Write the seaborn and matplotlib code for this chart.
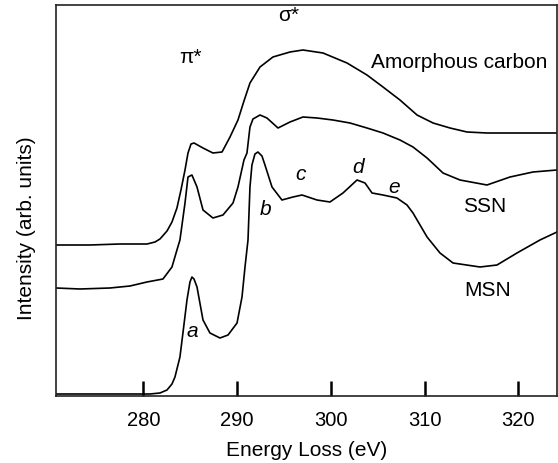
import matplotlib
matplotlib.use("Agg")
import matplotlib.pyplot as plt
import seaborn as sns
import pandas as pd

# energy loss (eV) and intensity (arb. units)
amorphous_e = [270.7, 274.3, 277.5, 280.4, 281.25, 281.78, 282.53, 283.06, 283.59, 284.02,
               284.45, 284.77, 285.09, 285.41, 286.37, 287.43, 288.40, 289.25, 290.10, 290.74,
               291.38, 292.45, 293.83, 295.65, 297.03, 299.17, 301.73, 303.86, 305.57, 307.38,
               309.20, 310.91, 312.72, 314.53, 316.66, 319.86, 324.13]
amorphous_i = [1.51, 1.51, 1.52, 1.52, 1.54, 1.57, 1.65, 1.74, 1.88, 2.06,
               2.26, 2.43, 2.52, 2.53, 2.48, 2.43, 2.44, 2.59, 2.76, 2.95,
               3.13, 3.29, 3.39, 3.44, 3.46, 3.43, 3.33, 3.21, 3.09, 2.96,
               2.81, 2.73, 2.68, 2.64, 2.63, 2.63, 2.63]

ssn_e = [270.7, 273.25, 276.45, 278.58, 280.39, 282.10, 283.06, 283.59, 283.91, 284.45,
         284.77, 285.19, 285.73, 286.37, 287.43, 288.50, 289.57, 290.10, 290.74, 291.06,
         291.38, 291.70, 292.45, 293.19, 294.37, 295.65, 297.03, 298.53, 300.23, 302.05,
         303.86, 305.57, 307.38, 308.77, 310.27, 311.97, 313.78, 316.66, 319.12, 321.57,
         324.13]
ssn_i = [1.08, 1.07, 1.08, 1.10, 1.14, 1.17, 1.29, 1.46, 1.56, 1.93,
         2.19, 2.21, 2.09, 1.86, 1.78, 1.81, 1.93, 2.09, 2.36, 2.43,
         2.69, 2.77, 2.81, 2.78, 2.68, 2.74, 2.79, 2.78, 2.76, 2.73,
         2.68, 2.63, 2.56, 2.49, 2.38, 2.23, 2.16, 2.11, 2.19, 2.24,
         2.26]

msn_e = [270.7, 275.38, 280.71, 281.78, 282.53, 283.06, 283.38, 283.91, 284.23, 284.66,
         284.98, 285.19, 285.41, 285.73, 286.37, 287.11, 288.18, 289.04, 290.00, 290.53,
         290.85, 291.17, 291.38, 291.59, 291.91, 292.23, 292.66, 292.98, 293.73, 294.79,
         295.97, 296.93, 298.53, 299.91, 301.30, 302.80, 303.65, 304.40, 305.57, 307.06,
         308.13, 308.77, 310.27, 311.65, 313.04, 315.92, 317.73, 319.86, 322.31, 324.13]
msn_i = [0.02, 0.02, 0.02, 0.03, 0.06, 0.12, 0.19, 0.39, 0.63, 0.96,
         1.14, 1.19, 1.17, 1.09, 0.76, 0.63, 0.58, 0.61, 0.73, 0.99,
         1.29, 1.56, 2.09, 2.31, 2.42, 2.44, 2.40, 2.31, 2.09, 1.96,
         1.99, 2.01, 1.96, 1.94, 2.03, 2.16, 2.13, 2.03, 2.01, 1.98,
         1.91, 1.83, 1.59, 1.43, 1.33, 1.29, 1.31, 1.43, 1.56, 1.64]

x_ticks = [280, 290, 300, 310, 320]

sns.set_style("white")
plt.rcParams['font.family'] = ['Liberation Sans', 'DejaVu Sans']
plt.rcParams['text.color'] = 'black'
plt.rcParams['axes.labelcolor'] = 'black'
plt.rcParams['xtick.color'] = 'black'

fig = plt.figure(figsize=(5.58, 4.63), dpi=100)
ax = fig.add_axes([56 / 558, 67 / 463, 501 / 558, 391 / 463])

for e, i in [(amorphous_e, amorphous_i), (ssn_e, ssn_i), (msn_e, msn_i)]:
    df = pd.DataFrame({'energy': e, 'intensity': i})
    sns.lineplot(data=df, x='energy', y='intensity', ax=ax, color='black',
                 linewidth=1.2, estimator=None, sort=False)

ax.set_xlim(270.69, 324.13)
ax.set_ylim(0, 3.91)
ax.set_xticks(x_ticks)
ax.set_yticks([])
ax.tick_params(axis='x', bottom=True, direction='in', length=11, width=1.8,
               color='black', pad=11, labelsize=14.5, labelcolor='black')
for sp in ax.spines.values():
    sp.set_color('#222222')
    sp.set_linewidth(1.2)

ax.set_xlabel('Energy Loss (eV)', fontsize=15, labelpad=8)
ax.set_ylabel('Intensity (arb. units)', fontsize=15)
ax.yaxis.set_label_coords(-0.04, 0.43)

# annotations
ax.text(284.99, 3.33, 'π*', fontsize=15, ha='center', va='baseline')
ax.text(295.55, 3.75, 'σ*', fontsize=15, ha='center', va='baseline')
ax.text(304.27, 3.28, 'Amorphous carbon', fontsize=15, ha='left', va='baseline')
ax.text(314.1, 1.84, 'SSN', fontsize=15, ha='left', va='baseline')
ax.text(314.2, 1.00, 'MSN', fontsize=15, ha='left', va='baseline')
for lbl, x, y in [('a', 284.66, 0.59), ('b', 292.45, 1.81), ('c', 296.18, 2.16),
                  ('d', 302.26, 2.23), ('e', 306.10, 2.03)]:
    ax.text(x, y, lbl, fontsize=15, style='italic', ha='left', va='baseline')

plt.savefig('out.png', dpi=100)
